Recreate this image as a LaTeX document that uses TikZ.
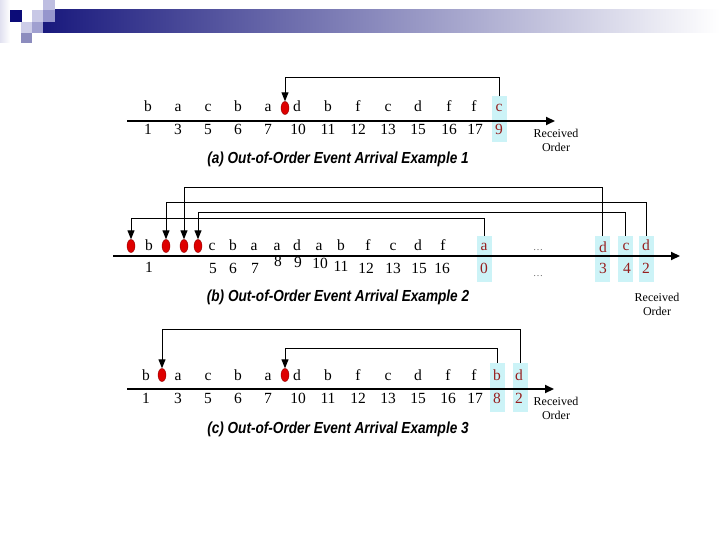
\documentclass[tikz,border=0pt]{standalone}
\usepackage{fontspec}
\setmainfont{Liberation Serif}
\newfontfamily\capfont{Liberation Sans}
\usetikzlibrary{arrows.meta,shapes.geometric}
\definecolor{hl}{RGB}{204,243,247}
\definecolor{dred}{RGB}{150,30,30}
\definecolor{ovred}{RGB}{222,0,0}
\definecolor{navy}{RGB}{12,12,120}
\definecolor{sqA}{RGB}{200,200,230}
\definecolor{sqB}{RGB}{190,190,225}
\definecolor{sqC}{RGB}{205,205,232}
\definecolor{sqD}{RGB}{160,160,208}
\definecolor{sqE}{RGB}{140,140,190}
\definecolor{sqF}{RGB}{150,150,205}
\definecolor{paleL}{RGB}{225,225,240}
\definecolor{barL}{RGB}{25,25,125}
\definecolor{barM}{RGB}{175,175,195}
\begin{document}
\begin{tikzpicture}[x=1pt,y=-1pt,
  lt/.style={anchor=base,inner sep=0pt,font=\fontsize{15.5}{15.5}\selectfont},
  rl/.style={lt,text=dred},
  ov/.style={ellipse,draw=red!55!black,fill=ovred,minimum width=8pt,minimum height=13pt,inner sep=0pt},
  hb/.style={fill=hl,minimum width=15pt,minimum height=46pt,inner sep=0pt},
  conn/.style={line width=1pt,-{Triangle[width=7pt,length=9pt]}},
  axisline/.style={line width=2.2pt,-{Triangle[width=8pt,length=9pt]}},
  captext/.style={inner sep=0pt,font=\capfont\bfseries\itshape\fontsize{16}{16}\selectfont},
  rec/.style={align=center,inner sep=0pt,font=\fontsize{12}{14}\selectfont},
  dots/.style={anchor=base,inner sep=0pt,text=black!60,font=\fontsize{10}{10}\selectfont}]
\useasboundingbox (0,0) rectangle (720,540);
% header decoration
\shade[left color=paleL,right color=white] (0,0) rectangle (10,43);
\fill[navy] (10,10) rectangle (22,22);
\shade[left color=barL,middle color=barM,right color=white] (43,10) rectangle (720,33);
\fill[sqA] (32,10) rectangle (43,22);
\fill[sqB] (43,0) rectangle (55,10);
\fill[sqF] (43,10) rectangle (55,22);
\fill[sqC] (21,22) rectangle (32,33);
\fill[sqD] (32,22) rectangle (43,33);
\fill[sqE] (21,33) rectangle (32,43);

% ---------------- panel (a)
\node[hb] (aB) at (499.5,119.5) {};
\coordinate (aS) at (127,121); \coordinate (aE) at (555,121);
\draw[axisline] (aS) -- (aE);
\foreach \x/\t [count=\i] in {148/b,178/a,208/c,238/b,268/a,297/d,328/b,358/f,388/c,418/d,449/f,474/f}
  \node[lt] (aL\i) at (\x,112) {\t};
\node[rl] (aLc) at (499,112) {c};
\foreach \x/\t [count=\i] in {148/1,178/3,208/5,238/6,268/7,298/10,328/11,358/12,388/13,418/15,449/16,475/17}
  \node[lt] (aN\i) at (\x,135) {\t};
\node[rl] (aN9) at (499,135) {9};
\node[ov] (aO) at (285,108) {};
\draw[conn] (aB.north) -- (aB.north |- 0,78) -| (aO.north);
\node[captext] (aC) at (338,159) {\scalebox{0.85}[1]{(a) Out-of-Order Event Arrival Example 1}};
\node[rec] (aR) at (556,140) {Received\\Order};

% ---------------- panel (b)
\node[hb] (bB0) at (484,259) {};
\node[hb] (bB3) at (602.5,259) {};
\node[hb] (bB4) at (625.5,259) {};
\node[hb] (bB2) at (646.5,259) {};
\coordinate (bS) at (113,256); \coordinate (bE) at (680,256);
\draw[axisline] (bS) -- (bE);
\foreach \x/\t [count=\i] in {149/b,212/c,233/b,254/a,277/a,297/d,319/a,341/b,368/f,393/c,418/d,443/f}
  \node[lt] (bL\i) at (\x,251) {\t};
\node[rl] (bLa) at (484,250) {a};
\node[rl] (bLd1) at (603,252) {d};
\node[rl] (bLc) at (626,250) {c};
\node[rl] (bLd2) at (646,250) {d};
\node[dots] (bD1) at (538,251) {\ldots};
\foreach \x/\t/\y [count=\i] in {149/1/272,213/5/273,233/6/273,255/7/273,278/8/266,298/9/267,320/10/268,341/11/271,366/12/273,393/13/273,419/15/273,442/16/273}
  \node[lt] (bN\i) at (\x,\y) {\t};
\node[rl] (bN0) at (484,273) {0};
\node[rl] (bN3) at (603,273) {3};
\node[rl] (bN4) at (627,273) {4};
\node[rl] (bN2) at (646,273) {2};
\node[dots] (bD2) at (538,276) {\ldots};
\node[ov] (bO1) at (131,246) {};
\node[ov] (bO2) at (166,246) {};
\node[ov] (bO3) at (184,246) {};
\node[ov] (bO4) at (198,246) {};
\draw[conn] (bB3.north) -- (bB3.north |- 0,188) -| (bO3.north);
\draw[conn] (bB2.north) -- (bB2.north |- 0,203) -| (bO2.north);
\draw[conn] (bB4.north) -- (bB4.north |- 0,213) -| (bO4.north);
\draw[conn] (bB0.north) -- (bB0.north |- 0,219) -| (bO1.north);
\node[captext] (bC) at (338,297) {\scalebox{0.85}[1]{(b) Out-of-Order Event Arrival Example 2}};
\node[rec] (bR) at (657,304) {Received\\Order};

% ---------------- panel (c)
\node[hb,minimum height=49pt] (cBb) at (497,387.5) {};
\node[hb,minimum height=49pt] (cBd) at (520.5,387.5) {};
\coordinate (cS) at (127,389); \coordinate (cE) at (554,389);
\draw[axisline] (cS) -- (cE);
\foreach \x/\t [count=\i] in {146/b,178/a,208/c,238/b,268/a,297/d,328/b,358/f,388/c,418/d,448/f,474/f}
  \node[lt] (cL\i) at (\x,380) {\t};
\node[rl] (cLb) at (497,380) {b};
\node[rl] (cLd) at (519,380) {d};
\foreach \x/\t [count=\i] in {146/1,178/3,208/5,238/6,268/7,298/10,328/11,358/12,388/13,418/15,448/16,475/17}
  \node[lt] (cN\i) at (\x,403) {\t};
\node[rl] (cN8) at (497,403) {8};
\node[rl] (cN2) at (519,403) {2};
\node[ov] (cO1) at (162,375) {};
\node[ov] (cO2) at (285,375) {};
\draw[conn] (cBd.north) -- (cBd.north |- 0,329) -| (cO1.north);
\draw[conn] (cBb.north) -- (cBb.north |- 0,348) -| (cO2.north);
\node[captext] (cC) at (338,429) {\scalebox{0.85}[1]{(c) Out-of-Order Event Arrival Example 3}};
\node[rec] (cR) at (556,408) {Received\\Order};
\end{tikzpicture}
\end{document}
